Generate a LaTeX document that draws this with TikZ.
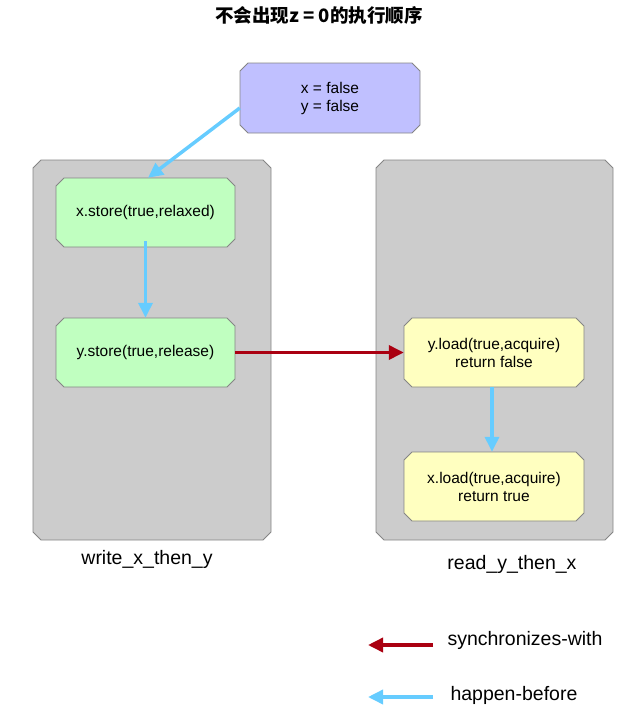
\documentclass[tikz,border=0pt]{standalone}
\usepackage{fontspec}
\setmainfont{Liberation Sans}
\newfontfamily\cjk{Noto Sans CJK SC}
\usetikzlibrary{arrows.meta}
\definecolor{hbblue}{HTML}{66CCFF}
\definecolor{swred}{HTML}{AA0011}
\definecolor{initfill}{HTML}{C0C0FF}
\definecolor{greenfill}{HTML}{C0FFC0}
\definecolor{yellowfill}{HTML}{FFFFC0}
\definecolor{contfill}{HTML}{CCCCCC}
\definecolor{edgegray}{HTML}{858585}
\tikzset{
  octline/.style={draw=edgegray, line width=0.9pt},
  boxtext/.style={rectangle, inner sep=0pt, align=center, font=\fontsize{15.5}{18}\selectfont},
  hb/.style={draw=hbblue, line width=3.5pt, -{Triangle[length=15pt,width=14pt]}},
  sw/.style={draw=swred, line width=3.5pt, -{Triangle[length=15pt,width=14pt]}},
  lab/.style={font=\fontsize{19.5}{22}\selectfont},
}
% name, cx, cy, w, h, fill, text
\newcommand\octbox[7]{%
  \filldraw[octline, fill=#6] (#2-#4/2+8,#3-#5/2) -- (#2+#4/2-8,#3-#5/2) -- (#2+#4/2,#3-#5/2+8) -- (#2+#4/2,#3+#5/2-8) -- (#2+#4/2-8,#3+#5/2) -- (#2-#4/2+8,#3+#5/2) -- (#2-#4/2,#3+#5/2-8) -- (#2-#4/2,#3-#5/2+8) -- cycle;
  \node[boxtext, minimum width=#4, minimum height=#5] (#1) at (#2,#3) {#7};}
\begin{document}
\begin{tikzpicture}[x=1pt,y=-1pt]
\useasboundingbox (0,0) rectangle (635,716);
\node[font=\cjk\bfseries\fontsize{18.5}{20}\selectfont] (title) at (319,15) {不会出现z = 0的执行顺序};
\octbox{left}{152}{350}{238}{380}{contfill}{}
\octbox{right}{494.5}{350}{237}{380}{contfill}{}
\octbox{init}{330}{98}{180}{70}{initfill}{x = false\\y = false}
\octbox{g1}{145.5}{212.5}{179}{69}{greenfill}{x.store(true,relaxed)}
\octbox{g2}{145.5}{352.5}{179}{69}{greenfill}{y.store(true,release)}
\octbox{y1}{494}{352.5}{180}{69}{yellowfill}{y.load(true,acquire)\\return false}
\octbox{y2}{494}{486.5}{180}{69}{yellowfill}{x.load(true,acquire)\\return true}
\node[lab] (lname) at (147,559) {write\_x\_then\_y};
\node[lab] (rname) at (512,564) {read\_y\_then\_x};
\draw[hb] (init.west |- 0,108) -- (g1.north -| 148,0);
\draw[hb] ([yshift=6pt]g1.south) -- (g2.north);
\draw[sw] (g2.east) -- (y1.west);
\draw[hb] (y1.south -| 492,0) -- (y2.north -| 492,0);
\coordinate (swa) at (433,645);
\coordinate (swb) at (368,645);
\coordinate (hba) at (433,697);
\coordinate (hbb) at (368,697);
\draw[sw] (swa) -- (swb);
\draw[hb] (hba) -- (hbb);
\node[lab, anchor=west] (swl) at (444,640) {synchronizes-with};
\node[lab, anchor=west] (hbl) at (447,695) {happen-before};
\end{tikzpicture}
\end{document}
